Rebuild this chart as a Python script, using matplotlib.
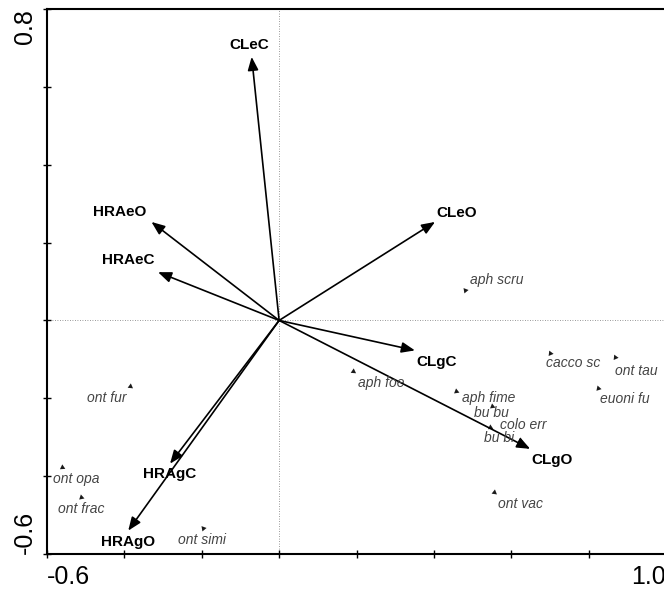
import numpy as np
import matplotlib
matplotlib.use("Agg")
import matplotlib.pyplot as plt

plt.rcParams['font.family'] = ['Liberation Sans', 'DejaVu Sans']

# environmental variables (arrow tips)
env_names = ["CLeC", "HRAeO", "HRAeC", "CLeO", "CLgC", "CLgO", "HRAgC", "HRAgO"]
env_x = [-0.071, -0.330, -0.313, 0.403, 0.351, 0.649, -0.282, -0.390]
env_y = [0.677, 0.253, 0.124, 0.253, -0.077, -0.330, -0.368, -0.540]

# species scores
sp_names = ["aph scru", "ont fur", "ont opa", "ont frac", "ont simi", "aph foe",
            "aph fime", "bu bu", "colo err", "bu bi", "cacco sc", "ont tau",
            "euoni fu", "ont vac"]
sp_x = [0.481, -0.386, -0.561, -0.511, -0.196, 0.190,
        0.458, 0.549, 0.544, 0.622, 0.700, 0.867,
        0.824, 0.556]
sp_y = [0.079, -0.169, -0.377, -0.454, -0.534, -0.130,
        -0.182, -0.220, -0.274, -0.308, -0.084, -0.093,
        -0.174, -0.441]

# label placement (pixel offsets from point, alignment)
env_off = {"CLeC": (-2, 12), "HRAeO": (-32, 10), "HRAeC": (-30, 12),
           "CLeO": (22, 9), "CLgC": (22, -12), "CLgO": (22, -11),
           "HRAgC": (0, -10), "HRAgO": (0, -11)}
sp_off = {"aph scru": (5, 10, 'left'), "ont fur": (-3, -12, 'right'),
          "ont opa": (-9, -12, 'left'), "ont frac": (0, -12, 'center'),
          "ont simi": (-1, -12, 'center'), "aph foe": (5, -12, 'left'),
          "aph fime": (6, -7, 'left'), "bu bu": (0, -7, 'center'),
          "colo err": (10, 2, 'left'), "bu bi": (-21, 2, 'center'),
          "cacco sc": (-4, -10, 'left'), "ont tau": (0, -14, 'left'),
          "euoni fu": (2, -11, 'left'), "ont vac": (4, -12, 'left')}

fig = plt.figure(figsize=(6.64, 5.90), dpi=100)
ax = fig.add_axes([47 / 664, 36 / 590, 619 / 664, 545 / 590])
ax.set_xlim(-0.6, 1.0)
ax.set_ylim(-0.6, 0.8)

ax.axhline(0, color='#777777', lw=0.6, ls=(0, (1, 2)), zorder=0)
ax.axvline(0, color='#777777', lw=0.6, ls=(0, (1, 2)), zorder=0)

# arrows for environmental variables
for name, x, y in zip(env_names, env_x, env_y):
    ax.annotate('', xy=(x, y), xytext=(0, 0),
                arrowprops=dict(arrowstyle='-|>,head_length=0.5,head_width=0.2',
                                mutation_scale=16, lw=1.2, color='black',
                                shrinkA=0, shrinkB=0))
    dx, dy = env_off[name]
    ax.annotate(name, xy=(x, y), xytext=(dx, dy), textcoords='offset pixels',
                ha='center', va='center', fontsize=11, fontweight='bold')

# species as small arrowheads
for name, x, y in zip(sp_names, sp_x, sp_y):
    ang = np.degrees(np.arctan2(y, x)) - 90
    ax.plot(x, y, marker=(3, 0, ang), ms=4.5, color='#1a1a1a', mew=0, ls='none')
    dx, dy, ha = sp_off[name]
    ax.annotate(name, xy=(x, y), xytext=(dx, dy), textcoords='offset pixels',
                ha=ha, va='center', fontsize=10, style='italic', color='#444444')

ticks_x = np.round(np.arange(-0.6, 1.01, 0.2), 1)
ticks_y = np.round(np.arange(-0.6, 0.81, 0.2), 1)
ax.set_xticks(ticks_x)
ax.set_yticks(ticks_y)
ax.set_xticklabels(['-0.6'] + [''] * (len(ticks_x) - 2) + ['1.0'], fontsize=18)
ax.set_yticklabels(['-0.6'] + [''] * (len(ticks_y) - 2) + ['0.8'], fontsize=18,
                   rotation=90)
xl = ax.get_xticklabels()
xl[0].set_ha('left')
xl[-1].set_ha('right')
yl = ax.get_yticklabels()
yl[0].set_va('bottom')
yl[-1].set_va('top')
ax.tick_params(direction='inout', length=6, width=1)
ax.tick_params(axis='x', pad=5)
ax.tick_params(axis='y', pad=4)

for s in ['left', 'bottom', 'top', 'right']:
    ax.spines[s].set_linewidth(1.5)

fig.savefig('out.png', dpi=100)
